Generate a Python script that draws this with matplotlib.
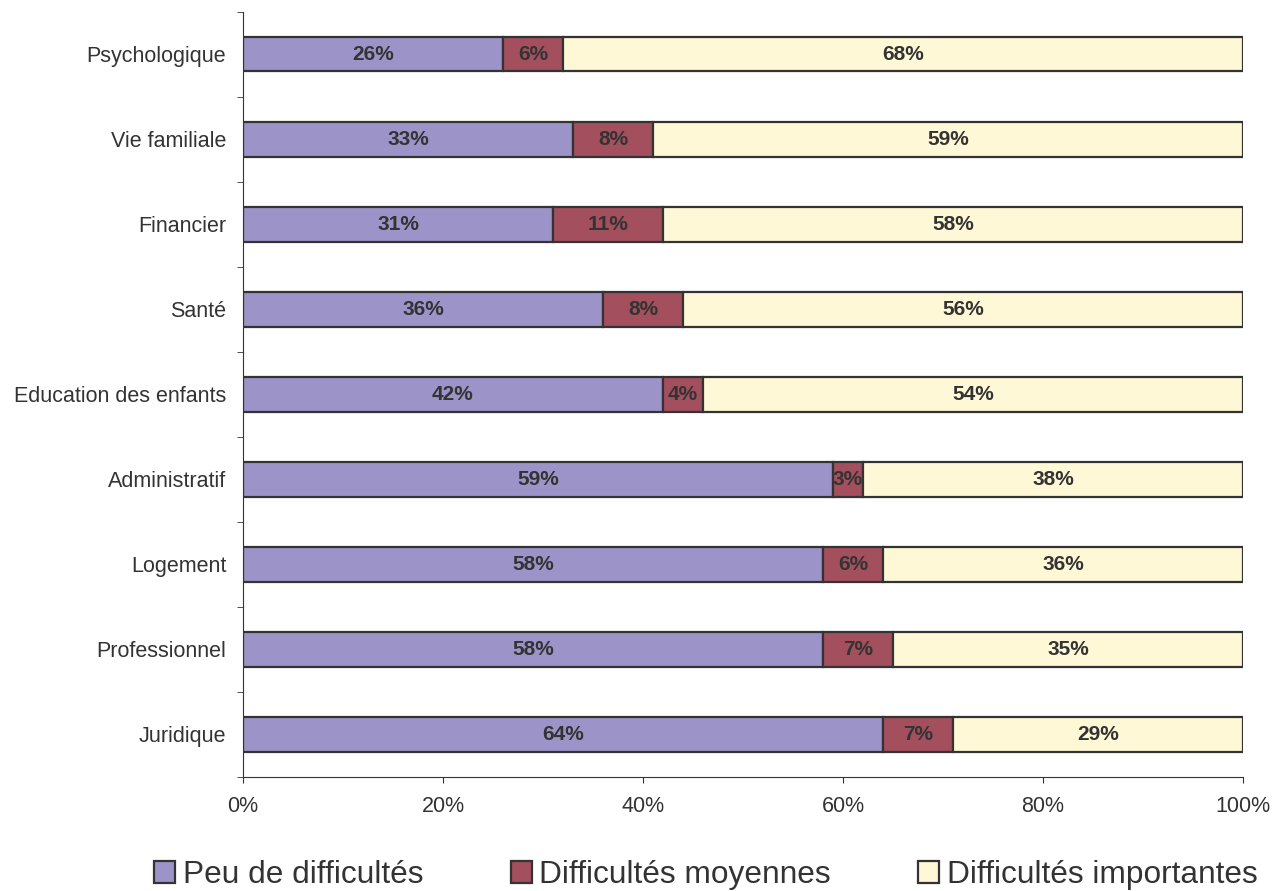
import matplotlib.pyplot as plt
import numpy as np

plt.rcParams['font.family'] = ['Liberation Sans', 'DejaVu Sans']

categories = ["Psychologique", "Vie familiale", "Financier", "Santé",
              "Education des enfants", "Administratif", "Logement",
              "Professionnel", "Juridique"]
peu = [26, 33, 31, 36, 42, 59, 58, 58, 64]
moyennes = [6, 8, 11, 8, 4, 3, 6, 7, 7]
importantes = [68, 59, 58, 56, 54, 38, 36, 35, 29]
series_names = ["Peu de difficultés", "Difficultés moyennes", "Difficultés importantes"]
colors = ["#9C94C8", "#A44F5D", "#FFF8D6"]

fig = plt.figure(figsize=(12.83, 8.91), dpi=100)
ax = fig.add_axes([243/1283, 1 - 777/891, 1000/1283, (777 - 11.5)/891])

n = len(categories)
y = np.arange(n)[::-1]
left = np.zeros(n)
bars = []
for vals, name, col in zip([peu, moyennes, importantes], series_names, colors):
    vals = np.array(vals, dtype=float)
    b = ax.barh(y, vals, left=left, height=0.41, color=col,
                edgecolor="#333333", linewidth=1.6, label=name)
    bars.append(b)
    for yi, l, v in zip(y, left, vals):
        ax.text(l + v / 2, yi, f"{int(v)}%", ha="center", va="center",
                fontsize=15, fontweight="bold", color="#333333")
    left += vals

ax.set_xlim(0, 100)
ax.set_ylim(-0.5, n - 0.5)
ax.set_xticks(np.arange(0, 101, 20))
ax.set_xticklabels([f"{t}%" for t in range(0, 101, 20)], fontsize=15.5, color="#333333")
ax.set_yticks(y)
ax.set_yticklabels(categories, fontsize=15.5, color="#333333")
ax.set_yticks(np.arange(-0.5, n, 1), minor=True)
ax.tick_params(axis="y", which="major", length=0, pad=12)
ax.tick_params(axis="y", which="minor", length=4.5, direction="out", color="#333333")
ax.tick_params(axis="x", which="major", length=4.5, direction="out", color="#333333", pad=9)
for s in ["top", "right"]:
    ax.spines[s].set_visible(False)
for s in ["left", "bottom"]:
    ax.spines[s].set_color("#333333")

leg = fig.legend(handles=bars, labels=series_names, loc="center", ncol=3,
                 bbox_to_anchor=(706/1283, 1 - 875/891), frameon=False,
                 fontsize=22.8, handlelength=0.66, handleheight=0.66,
                 handletextpad=0.25, columnspacing=2.75, borderpad=0)
for t in leg.get_texts():
    t.set_color("#333333")

fig.savefig("out.png", dpi=100)
